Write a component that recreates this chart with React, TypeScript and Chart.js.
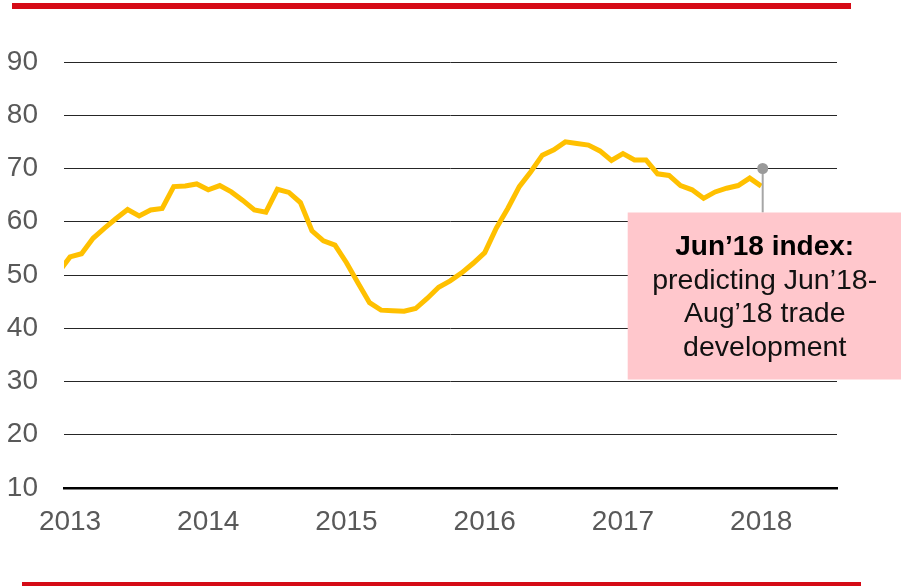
import React, { useEffect, useRef } from "react";
import { Chart, registerables } from "chart.js";

Chart.register(...registerables);

// Monthly index values (Dec 2012 .. Jan 2018)
const indexValues: number[] = [
  50.5, 53.4, 54.0, 56.9, 58.8, 60.6, 62.3, 61.1, 62.2, 62.5, 66.6, 66.7,
  67.1, 66.0, 66.8, 65.6, 64.0, 62.2, 61.8, 66.1, 65.5, 63.6, 58.3, 56.4,
  55.6, 52.3, 48.5, 44.8, 43.4, 43.3, 43.2, 43.7, 45.6, 47.7, 48.9, 50.4,
  52.2, 54.2, 58.8, 62.5, 66.6, 69.4, 72.5, 73.5, 75.0, 74.7, 74.4, 73.3,
  71.5, 72.8, 71.6, 71.6, 69.0, 68.7, 66.8, 66.0, 64.4, 65.6, 66.3, 66.8,
  68.2, 66.7,
];
const yearLabels: string[] = ["2013", "2014", "2015", "2016", "2017", "2018"];
const yearTickIndex: number[] = [1, 13, 25, 37, 49, 61];
const yTicks: number[] = [10, 20, 30, 40, 50, 60, 70, 80, 90];
const pinIndex = 61;
const pinValue = 70;
const annotationTitle = "Jun’18 index:";
const annotationLines: string[] = ["predicting Jun’18-", "Aug’18 trade", "development"];

const FONT = "'Liberation Sans', Arial, Helvetica, sans-serif";

const annotationPlugin = {
  id: "pinAnnotation",
  afterDatasetsDraw(chart: any) {
    const ctx = chart.ctx as CanvasRenderingContext2D;
    const xs = chart.scales.x;
    const ys = chart.scales.y;
    const px = xs.getPixelForValue(pinIndex) + 1.5;
    const py = ys.getPixelForValue(pinValue);
    const boxTop = py + 44;
    const boxLeft = px - 135;
    const boxW = 276;
    const boxH = 167;
    ctx.save();
    // pin line
    ctx.strokeStyle = "#a6a6a6";
    ctx.lineWidth = 2;
    ctx.beginPath();
    ctx.moveTo(px, py);
    ctx.lineTo(px, boxTop);
    ctx.stroke();
    // pin dot
    ctx.fillStyle = "#9a9a9a";
    ctx.beginPath();
    ctx.arc(px, py, 5.5, 0, Math.PI * 2);
    ctx.fill();
    // box
    ctx.fillStyle = "#ffc7cc";
    ctx.fillRect(boxLeft, boxTop, boxW, boxH);
    // text
    const cx = boxLeft + 137;
    ctx.textAlign = "center";
    ctx.textBaseline = "alphabetic";
    ctx.fillStyle = "#000";
    ctx.font = `bold 28px ${FONT}`;
    ctx.fillText(annotationTitle, cx, boxTop + 42);
    ctx.fillStyle = "#111";
    ctx.font = `28.5px ${FONT}`;
    annotationLines.forEach((t, i) => {
      ctx.fillText(t, cx, boxTop + 76 + i * 33.7);
    });
    ctx.restore();
  },
};

export default function App() {
  const canvasRef = useRef<HTMLCanvasElement | null>(null);

  useEffect(() => {
    if (!canvasRef.current) return;
    const chart = new Chart(canvasRef.current, {
      type: "line",
      data: {
        datasets: [
          {
            data: indexValues.map((v, i) => ({ x: i, y: v })),
            borderColor: "#ffc000",
            borderWidth: 5,
            pointRadius: 0,
            tension: 0,
            fill: false,
            clip: 0,
          },
        ],
      },
      options: {
        responsive: false,
        animation: false,
        parsing: false as any,
        layout: { padding: { top: 62, right: 64, left: 0, bottom: 0 } },
        plugins: {
          legend: { display: false },
          tooltip: { enabled: false },
        },
        scales: {
          x: {
            type: "linear",
            min: 0.477,
            max: 67.58,
            afterBuildTicks: (scale: any) => {
              scale.ticks = yearTickIndex.map((v) => ({ value: v }));
            },
            afterFit: (scale: any) => {
              scale.height = 98;
            },
            ticks: {
              autoSkip: false,
              maxRotation: 0,
              padding: 17,
              color: "#595959",
              font: { family: FONT, size: 28 },
              callback: (v: any) => {
                const i = yearTickIndex.indexOf(Number(v));
                return i >= 0 ? yearLabels[i] : "";
              },
            },
            grid: { display: false, drawTicks: false },
            border: { display: true, color: "#000", width: 2.5 },
          },
          y: {
            type: "linear",
            min: 10,
            max: 90,
            afterBuildTicks: (scale: any) => {
              scale.ticks = yTicks.map((v) => ({ value: v }));
            },
            afterFit: (scale: any) => {
              scale.width = 64;
            },
            ticks: {
              padding: 26,
              color: "#595959",
              font: { family: FONT, size: 28 },
            },
            grid: {
              drawTicks: false,
              color: (c: any) => (c.tick && c.tick.value === 10 ? "rgba(0,0,0,0)" : "#262626"),
              lineWidth: 1,
            },
            border: { display: false },
          },
        },
      },
      plugins: [annotationPlugin],
    });
    return () => chart.destroy();
  }, []);

  return (
    <div style={{ position: "absolute", left: 0, top: 0, width: 901, height: 586, background: "#fff" }}>
      <canvas ref={canvasRef} width={901} height={586} style={{ display: "block" }} />
      <div style={{ position: "absolute", left: 12, top: 3, width: 839, height: 6, background: "#d50b16" }} />
      <div style={{ position: "absolute", left: 22, top: 582, width: 839, height: 4, background: "#d50b16" }} />
    </div>
  );
}
